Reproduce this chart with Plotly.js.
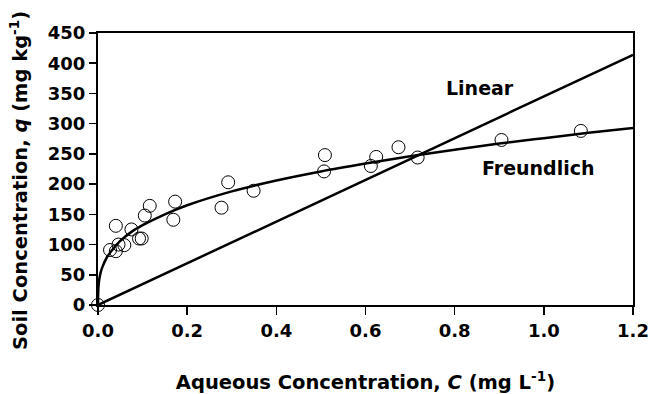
<!DOCTYPE html>
<html>
<head>
<meta charset="utf-8">
<script src="https://cdn.plot.ly/plotly-3.0.1.min.js"></script>
<style>html,body{margin:0;padding:0;background:#fff;}#chart{width:648px;height:394px;}</style>
</head>
<body>
<div id="chart"></div>
<script>
// Observed data
const obsC = [0, 0.027, 0.040, 0.040, 0.046, 0.059, 0.075, 0.092, 0.098, 0.105, 0.116, 0.169, 0.173, 0.277, 0.292, 0.349, 0.507, 0.509, 0.612, 0.624, 0.674, 0.717, 0.905, 1.083];
const obsQ = [0, 91, 131, 89, 100, 99, 125, 110, 110, 148, 164, 141, 171, 161, 203, 189, 221, 248, 230, 245, 261, 244, 273, 288];
// Freundlich curve
const freuC = [0, 0.001, 0.003, 0.006, 0.01, 0.02, 0.035, 0.05, 0.075, 0.1, 0.15, 0.2, 0.3, 0.4, 0.5, 0.6, 0.7, 0.8, 0.9, 1.0, 1.1, 1.2];
const freuQ = [0, 30, 43, 54, 63, 79, 94, 106, 121, 132, 150, 165, 188, 206, 221, 234, 246, 257, 267, 276, 285, 293];
// Linear curve
const linC = [0, 1.2];
const linQ = [0, 414];
// Tick labels
const xTickVals = [0, 0.2, 0.4, 0.6, 0.8, 1.0, 1.2];
const xTickText = ["0.0", "0.2", "0.4", "0.6", "0.8", "1.0", "1.2"];
const yTickVals = [0, 50, 100, 150, 200, 250, 300, 350, 400, 450];
const yTickText = ["0", "50", "100", "150", "200", "250", "300", "350", "400", "450"];
// Curve labels
const labelText = ["Linear", "Freundlich"];
const labelC = [0.857, 0.988];
const labelQ = [359, 226];
// Axis titles
const xTitle = 'Aqueous Concentration, <i>C</i> (mg L<sup>-1</sup>)';
const yTitle = 'Soil Concentration, <i>q</i> (mg kg<sup>-1</sup>)';

const font = "'DejaVu Sans', Arial, sans-serif";
const b = s => '<b>' + s + '</b>';

const traces = [
  {x: linC, y: linQ, mode: 'lines', line: {color: '#000', width: 2.5}, hoverinfo: 'skip', cliponaxis: false},
  {x: freuC, y: freuQ, mode: 'lines', line: {color: '#000', width: 2.5, shape: 'spline'}, hoverinfo: 'skip', cliponaxis: false},
  {x: obsC, y: obsQ, mode: 'markers', marker: {symbol: 'circle-open', size: 13, color: '#000', line: {width: 1, color: '#000'}}, cliponaxis: false}
];

const annotations = labelText.map((t, i) => ({
  x: labelC[i], y: labelQ[i], xref: 'x', yref: 'y', text: b(t), showarrow: false,
  font: {family: font, size: 19, color: '#000'}
}));
// y-axis title as a rotated annotation (placed in paper coords)
annotations.push({
  x: 0, xref: 'paper', xanchor: 'center', xshift: -79,
  y: 0.5, yref: 'paper', yanchor: 'middle', yshift: -12,
  text: b(yTitle), textangle: -90, showarrow: false,
  font: {family: font, size: 19.5, color: '#000'}
});

const layout = {
  width: 648, height: 394,
  margin: {l: 98, r: 15, t: 33, b: 89},
  paper_bgcolor: '#fff', plot_bgcolor: '#fff',
  showlegend: false,
  font: {family: font, color: '#000'},
  xaxis: {
    range: [0, 1.2], tickmode: 'array', tickvals: xTickVals, ticktext: xTickText.map(b),
    showgrid: false, zeroline: false, automargin: false, ticklabeloverflow: 'allow',
    showline: true, linecolor: '#000', linewidth: 2, mirror: true,
    ticks: 'outside', ticklen: 8, tickwidth: 1.5, tickcolor: '#000',
    tickfont: {family: font, size: 18, color: '#000'},
    title: {text: b(xTitle), font: {family: font, size: 19.5, color: '#000'}, standoff: 36}
  },
  yaxis: {
    range: [0, 450], tickmode: 'array', tickvals: yTickVals, ticktext: yTickText.map(b),
    showgrid: false, zeroline: false, automargin: false,
    showline: true, linecolor: '#000', linewidth: 2, mirror: true,
    ticks: 'outside', ticklen: 7, tickwidth: 1.5, tickcolor: '#000',
    tickfont: {family: font, size: 18, color: '#000'}
  },
  annotations: annotations
};

Plotly.newPlot('chart', traces, layout, {staticPlot: true});
</script>
</body>
</html>
